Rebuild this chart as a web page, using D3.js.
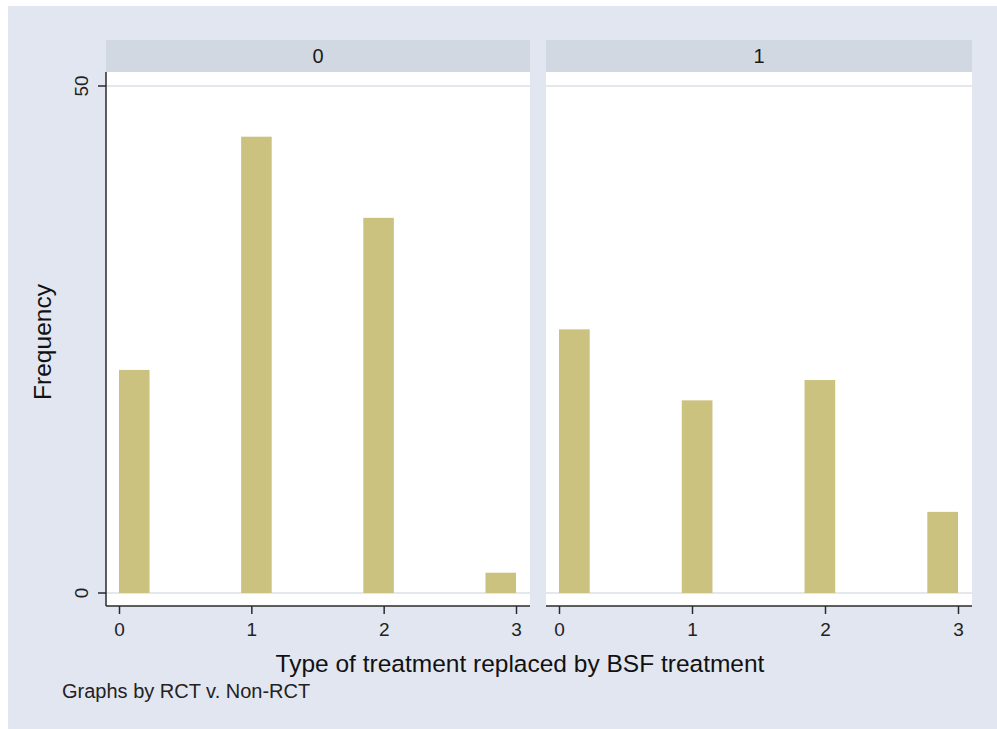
<!DOCTYPE html>
<html>
<head>
<meta charset="utf-8">
<script src="https://cdn.jsdelivr.net/npm/d3@7"></script>
<style>
  html, body { margin: 0; padding: 0; background: #ffffff; }
  svg { display: block; font-family: "Liberation Sans", Arial, sans-serif; }
</style>
</head>
<body>
<svg id="chart" width="997" height="729"></svg>
<script>
// ---- data ----
const panels = ["0", "1"];
const xTickValues = [0, 1, 2, 3];
const yTickValues = [0, 50];
const nBins = 13;              // histogram bins over [0,3]
const binIndex = [0, 4, 8, 12]; // non-empty bins (treatment types 0..3)
const freqPanel0 = [22, 45, 37, 2];
const freqPanel1 = [26, 19, 21, 8];
const xTitle = "Type of treatment replaced by BSF treatment";
const yTitle = "Frequency";
const note = "Graphs by RCT v. Non-RCT";

const series = [freqPanel0, freqPanel1];
const binWidth = 3 / nBins;

// ---- layout ----
const svg = d3.select("#chart");
svg.append("rect").attr("x", 8).attr("y", 6).attr("width", 989).attr("height", 723).attr("fill", "#e2e6f0");

const panelBoxes = [
  { left: 106, right: 530 },
  { left: 546, right: 972 }
];
const stripTop = 40, stripBottom = 72, plotBottom = 606;

const y = d3.scaleLinear().domain([0, 50]).range([593, 86]);

panels.forEach((p, i) => {
  const b = panelBoxes[i];
  const x = d3.scaleLinear().domain([0, 3]).range([b.left + 13, b.right - 14]);
  const g = svg.append("g");

  // strip
  g.append("rect").attr("x", b.left).attr("y", stripTop)
    .attr("width", b.right - b.left).attr("height", stripBottom - stripTop)
    .attr("fill", "#d2d8e1");
  g.append("text").attr("x", (b.left + b.right) / 2).attr("y", (stripTop + stripBottom) / 2 + 7)
    .attr("text-anchor", "middle").attr("font-size", 20).attr("fill", "#1a1a1a")
    .text(p);

  // plot region
  g.append("rect").attr("x", b.left).attr("y", stripBottom)
    .attr("width", b.right - b.left).attr("height", plotBottom - stripBottom)
    .attr("fill", "#ffffff");

  // gridlines
  g.selectAll(".grid").data(yTickValues).join("line")
    .attr("x1", b.left).attr("x2", b.right)
    .attr("y1", d => y(d)).attr("y2", d => y(d))
    .attr("stroke", "#e4e7ec").attr("stroke-width", 2);

  // bars
  g.selectAll(".bar").data(series[i]).join("rect")
    .attr("x", (d, k) => x(binIndex[k] * binWidth))
    .attr("width", (d, k) => x((binIndex[k] + 1) * binWidth) - x(binIndex[k] * binWidth))
    .attr("y", d => y(d))
    .attr("height", d => y(0) - y(d))
    .attr("fill", "#cac27e");

  // x axis
  const xAxis = d3.axisBottom(x).tickValues(xTickValues).tickSize(8).tickPadding(9).tickFormat(d3.format("d"));
  const xa = g.append("g").attr("transform", `translate(0,${plotBottom})`).call(xAxis);
  xa.select(".domain").remove();
  xa.append("line").attr("x1", b.left).attr("x2", b.right).attr("y1", 0).attr("y2", 0)
    .attr("stroke", "#2a2a2a").attr("stroke-width", 1.5);
  xa.selectAll(".tick line").attr("stroke", "#2a2a2a").attr("stroke-width", 1.5);
  xa.selectAll(".tick text").attr("font-size", 19).attr("fill", "#222")
    .attr("font-family", "Liberation Sans, Arial, sans-serif");

  // y axis only on first panel
  if (i === 0) {
    const ya = g.append("g").attr("transform", `translate(${b.left},0)`);
    ya.append("line").attr("x1", 0).attr("x2", 0).attr("y1", stripBottom).attr("y2", plotBottom)
      .attr("stroke", "#2a2a2a").attr("stroke-width", 1.5);
    ya.selectAll(".yt").data(yTickValues).join("line")
      .attr("x1", -8).attr("x2", 0).attr("y1", d => y(d)).attr("y2", d => y(d))
      .attr("stroke", "#2a2a2a").attr("stroke-width", 1.5);
    ya.selectAll(".yl").data(yTickValues).join("text")
      .attr("transform", d => `translate(-18,${y(d)}) rotate(-90)`)
      .attr("text-anchor", "middle")
      .attr("font-size", 19).attr("fill", "#222")
      .text(d => d);
  }
});

// axis titles
svg.append("text").attr("x", 520).attr("y", 672).attr("text-anchor", "middle")
  .attr("font-size", 24.5).attr("fill", "#111").text(xTitle);
svg.append("text").attr("transform", "translate(51,342) rotate(-90)").attr("text-anchor", "middle")
  .attr("font-size", 24.5).attr("fill", "#111").text(yTitle);
svg.append("text").attr("x", 62).attr("y", 698)
  .attr("font-size", 20).attr("fill", "#222").text(note);
</script>
</body>
</html>
